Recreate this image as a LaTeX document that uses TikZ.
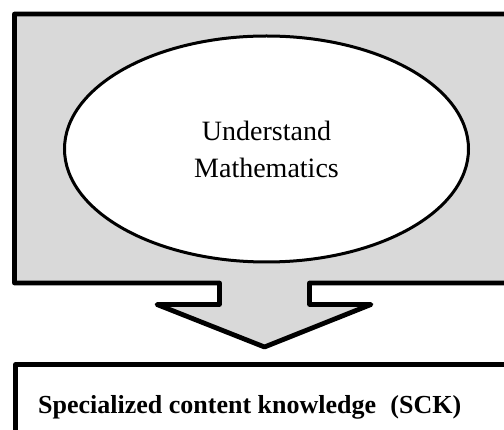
\documentclass[tikz,border=0pt]{standalone}
\usepackage{fontspec}
\setmainfont{Liberation Serif}
\usetikzlibrary{shapes.geometric}
\definecolor{panelgray}{HTML}{D9D9D9}
\tikzset{
  outline/.style={draw=black, line width=4.8pt, line join=round},
  bubble/.style={ellipse, draw=black, fill=white, line width=3pt, minimum width=404pt, minimum height=226pt, inner sep=0pt, align=center, font=\fontsize{28}{37}\selectfont},
  label/.style={anchor=base west, inner sep=0pt, font=\fontsize{26}{30}\selectfont\bfseries}
}
\begin{document}
\begin{tikzpicture}[x=1pt,y=-1pt]
\useasboundingbox (0,0) rectangle (504,430);
\clip (0,0) rectangle (504,430);
\fill[white] (0,0) rectangle (504,430);
% gray panel with arrow
\coordinate (tl) at (14.5,14);
\coordinate (sl) at (219.5,283);
\coordinate (sr) at (309.5,283);
\coordinate (hl) at (157,304.5);
\coordinate (hr) at (371,304.5);
\coordinate (tip) at (264.5,347);
\path[outline, fill=panelgray] (tl) -- (530,14) -- (530,283) -- (sr) -- (309.5,304.5) -- (hr) -- (tip) -- (hl) -- (219.5,304.5) -- (sl) -- (14.5,283) -- cycle;
\node[bubble] (um) at (266.5,149) {Understand\\Mathematics};
% bottom box
\coordinate (bl) at (15.5,364.5);
\path[outline] (15.5,450) -- (bl) -- (530,364.5);
\node[label] (sck) at (38,414) {Specialized content knowledge\hspace{0.55em}(SCK)};
\end{tikzpicture}
\end{document}
